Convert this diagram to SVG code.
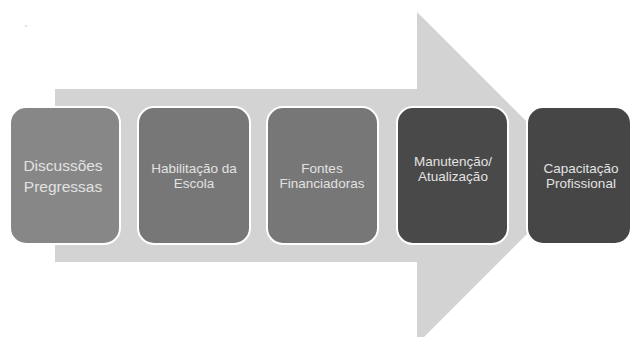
<svg xmlns="http://www.w3.org/2000/svg" width="632" height="337" viewBox="0 0 632 337">
<style>
.box{stroke:#ffffff;stroke-width:2}
.t{font-family:"Liberation Sans",Arial,sans-serif;fill:#e2e2e2;text-anchor:middle}
.s{font-size:13.5px}
.l{font-size:15.5px}
</style>
<rect width="632" height="337" fill="#ffffff"/>
<circle cx="26" cy="26" r="0.7" fill="#aaaaaa"/>
<g id="connectors">
<path d="M55 89 H417 V12 L583 178 L417 344 V262 H55 Z" fill="#d3d3d3"/>
</g>
<g id="n1">
<rect class="box" x="10" y="107" width="110" height="137" rx="16" fill="#878787"/>
<text class="t l" x="63" y="171">Discussões</text>
<text class="t l" x="63" y="191.5">Pregressas</text>
</g>
<g id="n2">
<rect class="box" x="138" y="107" width="112" height="137" rx="16" fill="#777777"/>
<text class="t s" x="194" y="172.5">Habilitação da</text>
<text class="t s" x="194" y="187.5">Escola</text>
</g>
<g id="n3">
<rect class="box" x="267" y="107" width="111" height="137" rx="16" fill="#777777"/>
<text class="t s" x="322" y="172.5">Fontes</text>
<text class="t s" x="322" y="187.5">Financiadoras</text>
</g>
<g id="n4">
<rect class="box" x="397" y="107" width="111" height="137" rx="16" fill="#494949"/>
<text class="t s" x="453" y="166">Manutenção/</text>
<text class="t s" x="453" y="180.5">Atualização</text>
</g>
<g id="n5">
<rect class="box" x="527" y="107" width="104" height="137" rx="16" fill="#464646"/>
<text class="t s" x="581" y="172.5">Capacitação</text>
<text class="t s" x="581" y="187.5">Profissional</text>
</g>
</svg>
